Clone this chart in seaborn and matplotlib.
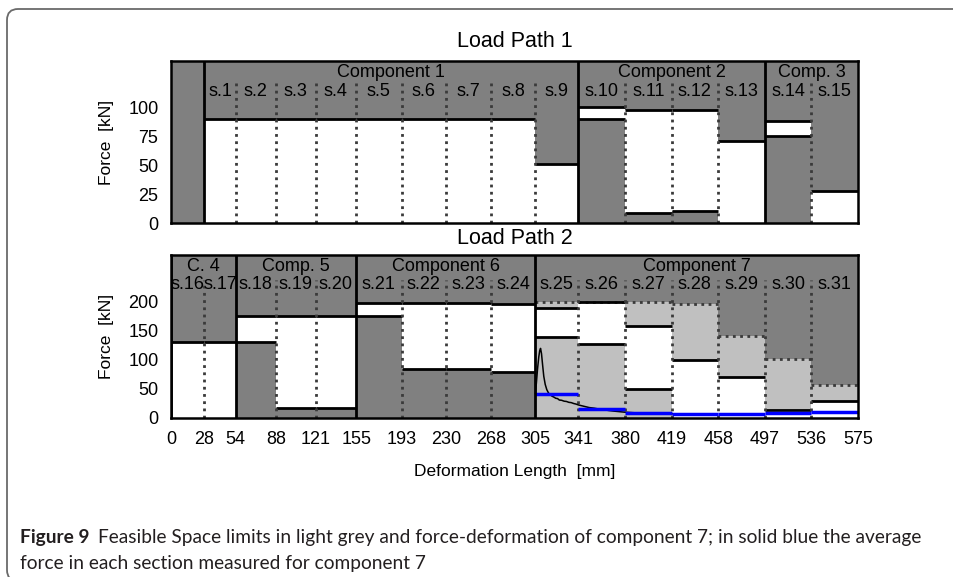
import matplotlib
matplotlib.use("Agg")
import matplotlib.pyplot as plt
import seaborn as sns
import pandas as pd
from matplotlib.patches import FancyBboxPatch
from matplotlib.transforms import IdentityTransform

# ---------------- data ----------------
edges = [0, 28, 54, 88, 121, 155, 193, 230, 268, 305, 341, 380, 419, 458, 497, 536, 575]
tick_labels = [str(e) for e in edges]

# Load Path 1 (sections s.1 - s.15 span edges[1:] )
lp1_sections = ["s.1", "s.2", "s.3", "s.4", "s.5", "s.6", "s.7", "s.8", "s.9",
                "s.10", "s.11", "s.12", "s.13", "s.14", "s.15"]
lp1_lower = [0, 0, 0, 0, 0, 0, 0, 0, 0, 90, 9, 10, 0, 75, 0]
lp1_upper = [90, 90, 90, 90, 90, 90, 90, 90, 51, 100, 98, 98, 71, 88, 28]
lp1_components = ["Component 1", "Component 2", "Comp. 3"]
lp1_comp_start = [28, 341, 497]
lp1_comp_end = [341, 497, 575]

# Load Path 2 (sections s.16 - s.31 span edges)
lp2_sections = ["s.16", "s.17", "s.18", "s.19", "s.20", "s.21", "s.22", "s.23",
                "s.24", "s.25", "s.26", "s.27", "s.28", "s.29", "s.30", "s.31"]
lp2_lower = [0, 0, 131, 17, 17, 176, 84, 84, 79, 139, 128, 50, 0, 0, 0, 0]
lp2_upper = [131, 131, 176, 176, 176, 199, 199, 199, 196, 189, 200, 158, 100, 71, 13, 29]
lp2_components = ["C. 4", "Comp. 5", "Component 6", "Component 7"]
lp2_comp_start = [0, 54, 155, 305]
lp2_comp_end = [54, 155, 305, 575]

# Component 7: feasible space limit (light grey) and measured average force (blue)
c7_feasible_upper = [200, 200, 200, 197, 141, 101, 57]
c7_avg_force = [41, 15, 9, 7, 7, 9, 10]

# measured force-deformation curve of component 7
curve_x = [305, 305.8, 306.8, 307.8, 308.6, 309.3, 310.1, 311.0, 312.0, 313.2, 314.5,
           316, 317.5, 319, 320.5, 322, 323.5, 325, 327, 329, 331, 333, 335, 337,
           339, 341, 344, 347, 350, 354, 358, 362, 366, 370, 375, 380, 388, 396,
           405, 415, 425]
curve_y = [42, 60, 85, 105, 116, 120, 111, 92, 72, 58, 49, 43, 40, 37.5, 36, 34,
           33.5, 31, 30.5, 29, 28.5, 27, 26.5, 25, 24, 22.5, 21, 19.5, 18, 17, 15.5,
           14.5, 13, 12, 11, 10, 9, 8.5, 8, 7.5, 7]

# ---------------- style ----------------
sns.set_style("white")
plt.rcParams["font.family"] = ["Liberation Sans", "DejaVu Sans"]
plt.rcParams["text.color"] = "black"
plt.rcParams["axes.labelcolor"] = "black"
plt.rcParams["xtick.color"] = "black"
plt.rcParams["ytick.color"] = "black"
DARK = "#808080"
LIGHT = "#c0c0c0"
DOT = "#3a3a3a"
FS = 12.5
TICK_FS = 13

W, H = 954, 577
fig = plt.figure(figsize=(W / 100, H / 100), dpi=100)

def px_axes(l, t, r, b):
    return fig.add_axes([l / W, 1 - b / H, (r - l) / W, (b - t) / H])

ax1 = px_axes(171, 61, 858, 223)
ax2 = px_axes(171, 255, 858, 418)

def style_axes(ax, ylim, yticks):
    ax.set_facecolor(DARK)
    ax.set_xlim(0, 575)
    ax.set_ylim(*ylim)
    ax.set_yticks(yticks)
    for s in ax.spines.values():
        s.set_visible(True)
        s.set_color("black")
        s.set_linewidth(1.8)
        s.set_zorder(10)
    ax.tick_params(axis="both", direction="out", length=6, width=1.6,
                   labelsize=TICK_FS, colors="black", pad=3)

style_axes(ax1, (0, 140), [0, 25, 50, 75, 100])
style_axes(ax2, (0, 281), [0, 50, 100, 150, 200])
ax1.set_xticks([])
ax2.set_xticks(edges)
ax2.set_xticklabels(tick_labels)

def draw_bands(ax, lefts, rights, lower, upper):
    widths = [r - l for l, r in zip(lefts, rights)]
    heights = [u - lo for u, lo in zip(upper, lower)]
    ax.bar(lefts, heights, width=widths, bottom=lower, align="edge",
           color="white", linewidth=0, zorder=2)
    for l, r, lo, u in zip(lefts, rights, lower, upper):
        if lo > 0:
            ax.hlines(lo, l, r, color="black", lw=2, zorder=4)
        ax.hlines(u, l, r, color="black", lw=2, zorder=4)

def draw_labels(ax, comps, cstart, cend, secs, lefts, rights, ycomp, ysec):
    for name, a, b in zip(comps, cstart, cend):
        ax.text((a + b) / 2, ycomp, name, ha="center", va="center",
                fontsize=FS + 0.5, color="black", zorder=12)
    for name, a, b in zip(secs, lefts, rights):
        ax.text((a + b) / 2, ysec, name, ha="center", va="center",
                fontsize=FS + 0.5, color="black", zorder=12)

def draw_dividers(ax, xs, comp_starts, dot_top):
    for x in xs:
        if x in comp_starts:
            ax.axvline(x, color="black", lw=2, zorder=9)
        else:
            ax.vlines(x, 0, dot_top, color=DOT, lw=2, ls=(0, (1, 1.6)), zorder=5)

# ---- Load Path 1 ----
l1_left = edges[1:-1]
l1_right = edges[2:]
draw_bands(ax1, l1_left, l1_right, lp1_lower, lp1_upper)
draw_dividers(ax1, edges[1:-1], lp1_comp_start, 121)
draw_labels(ax1, lp1_components, lp1_comp_start, lp1_comp_end,
            lp1_sections, l1_left, l1_right, 130, 114)
ax1.set_title("Load Path 1", fontsize=15.5, pad=10, color="black")
ax1.set_ylabel("Force  [kN]", fontsize=FS, color="black")

# ---- Load Path 2 ----
l2_left = edges[:-1]
l2_right = edges[1:]
c7_left = l2_left[9:]
c7_right = l2_right[9:]
ax2.bar(c7_left, c7_feasible_upper, width=[r - l for l, r in zip(c7_left, c7_right)],
        align="edge", color=LIGHT, linewidth=0, zorder=1)
for l, r, u in zip(c7_left, c7_right, c7_feasible_upper):
    ax2.hlines(u, l, r, color=DOT, lw=2, ls=(0, (1, 1.6)), zorder=3)
draw_bands(ax2, l2_left, l2_right, lp2_lower, lp2_upper)
draw_dividers(ax2, edges[:-1], lp2_comp_start, 238)

curve_df = pd.DataFrame({"x": curve_x, "y": curve_y})
sns.lineplot(data=curve_df, x="x", y="y", ax=ax2, color="black", lw=1.1,
             sort=False, zorder=6)
for l, r, v in zip(c7_left, c7_right, c7_avg_force):
    ax2.hlines(v, l, r, color="#0000ff", lw=2.5, zorder=7)
ax2.set_xlabel("Deformation Length  [mm]", fontsize=FS, labelpad=12, color="black")
ax2.set_ylabel("Force  [kN]", fontsize=FS, color="black")
draw_labels(ax2, lp2_components, lp2_comp_start, lp2_comp_end,
            lp2_sections, l2_left, l2_right, 261, 231)
ax2.set_title("Load Path 2", fontsize=15.5, pad=8, color="black")

# align y labels
for ax in (ax1, ax2):
    ax.yaxis.set_label_coords(-0.083, 0.5)

# ---- frame and caption ----
frame = FancyBboxPatch((7, -4), 1000, H - 8 + 4 - 1,
                       boxstyle="round,pad=0,rounding_size=11",
                       transform=IdentityTransform(), fill=False,
                       ec="#6a6a6a", lw=1.3)
fig.add_artist(frame)

cap_font = ["Lato", "DejaVu Sans"]
CAP_FS = 13.8
t1 = fig.text(20 / W, 1 - 538 / H, "Figure 9", fontsize=CAP_FS, fontweight="bold",
              family=cap_font, va="center", ha="left", color="#231f20")
fig.canvas.draw()
bb = t1.get_window_extent()
fig.text((bb.x1 + 8) / W, 1 - 538 / H,
         "Feasible Space limits in light grey and force-deformation of component 7; "
         "in solid blue the average",
         fontsize=CAP_FS, family=cap_font, va="center", ha="left", color="#231f20")
fig.text(20 / W, 1 - 563 / H, "force in each section measured for component 7",
         fontsize=CAP_FS, family=cap_font, va="center", ha="left", color="#231f20")

fig.savefig("out.png", dpi=100)
